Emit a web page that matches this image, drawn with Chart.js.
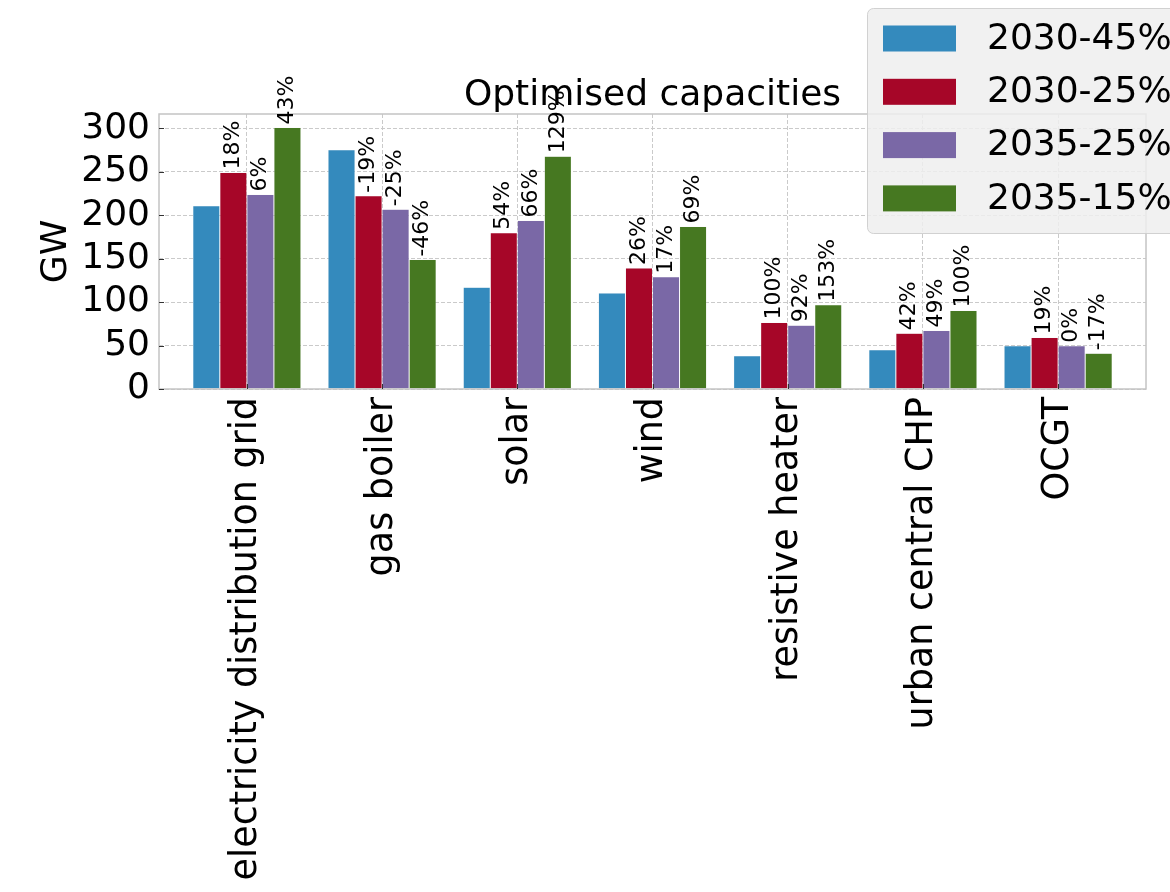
<!DOCTYPE html>
<html>
<head>
<meta charset="utf-8">
<title>Optimised capacities</title>
<script src="https://cdn.jsdelivr.net/npm/chart.js@4.4.1/dist/chart.umd.min.js"></script>
<style>
  html, body { margin: 0; padding: 0; background: #fff; }
  #wrap { width: 1170px; height: 892px; }
</style>
</head>
<body>
<div id="wrap"><canvas id="capChart" width="1170" height="892"></canvas></div>
<script>
// technologies on the x axis, one bar per scenario
const technologies = ['electricity distribution grid', 'gas boiler', 'solar', 'wind', 'resistive heater', 'urban central CHP', 'OCGT'];
const scenarios = ['2030-45%', '2030-25%', '2035-25%', '2035-15%'];

// optimised capacities in GW
const cap2030_45 = [211, 275.5, 117, 110.5, 38.3, 45.2, 49.8];
const cap2030_25 = [249.3, 222.5, 180, 139.3, 76.6, 64.2, 59.3];
const cap2035_25 = [224, 207, 194, 129.3, 73.5, 67.3, 49.8];
const cap2035_15 = [301, 149, 268, 187, 97, 90.4, 41.3];

const gwTicks = [0, 50, 100, 150, 200, 250, 300];

const colours = ['#348ABD', '#A60628', '#7A68A6', '#467821'];
const FONT = "'DejaVu Sans'";

Chart.defaults.font.family = FONT;
Chart.defaults.color = '#000';

const series = [cap2030_45, cap2030_25, cap2035_25, cap2035_15];

// frame, inward ticks, % change labels and title
const decorations = {
    id: 'decorations',
    afterDatasetsDraw(chart) {
        const { ctx, chartArea: a, scales: { x, y } } = chart;
        ctx.save();

        ctx.strokeStyle = '#c4c4c4';
        ctx.lineWidth = 1.5;
        ctx.strokeRect(a.left, a.top, a.right - a.left, a.bottom - a.top);

        ctx.strokeStyle = '#333';
        ctx.lineWidth = 1;
        ctx.beginPath();
        x.ticks.forEach(t => {
            const px = Math.round(x.getPixelForValue(t.value)) + 0.5;
            ctx.moveTo(px, a.bottom);
            ctx.lineTo(px, a.bottom - 5);
        });
        y.ticks.forEach(t => {
            const py = Math.round(y.getPixelForValue(t.value)) + 0.5;
            ctx.moveTo(a.left, py);
            ctx.lineTo(a.left + 5, py);
        });
        ctx.stroke();

        // change relative to the first scenario
        ctx.fillStyle = '#000';
        ctx.font = `22px ${FONT}`;
        ctx.textAlign = 'left';
        ctx.textBaseline = 'middle';
        const base = chart.data.datasets[0].data;
        for (let d = 1; d < chart.data.datasets.length; d++) {
            const ds = chart.data.datasets[d];
            chart.getDatasetMeta(d).data.forEach((bar, i) => {
                const pct = Math.round((ds.data[i].y / base[i].y - 1) * 100) + 0;
                ctx.save();
                ctx.translate(bar.x, bar.y - 3);
                ctx.rotate(-Math.PI / 2);
                ctx.fillText(pct + '%', 0, 0);
                ctx.restore();
            });
        }

        ctx.font = `36px ${FONT}`;
        ctx.textAlign = 'center';
        ctx.textBaseline = 'alphabetic';
        ctx.fillText('Optimised capacities', (a.left + a.right) / 2, a.top - 9);
        ctx.restore();
    },
    afterDraw(chart) {
        // legend box in the upper right corner, partly over the plot
        const { ctx, width } = chart;
        const lx = width - 303, ly = 8, lw = 340, lh = 225;
        ctx.save();
        ctx.fillStyle = 'rgba(238,238,238,0.85)';
        ctx.strokeStyle = 'rgba(205,205,205,0.9)';
        ctx.lineWidth = 1;
        ctx.beginPath();
        ctx.roundRect(lx + 0.5, ly + 0.5, lw, lh, 6);
        ctx.fill();
        ctx.stroke();

        ctx.font = `36px ${FONT}`;
        ctx.textAlign = 'left';
        ctx.textBaseline = 'middle';
        chart.data.datasets.forEach((ds, i) => {
            const cy = ly + 30.5 + i * 53.3;
            ctx.fillStyle = ds.backgroundColor;
            ctx.fillRect(lx + 16, cy - 13, 73, 26);
            ctx.fillStyle = '#000';
            ctx.fillText(ds.label, lx + 120, cy + 1);
        });
        ctx.restore();
    }
};

const gridColour = '#cacaca';

new Chart(document.getElementById('capChart'), {
    type: 'bar',
    data: {
        datasets: scenarios.map((label, k) => ({
            label,
            data: series[k].map((v, i) => ({ x: i, y: v })),
            backgroundColor: colours[k],
            borderColor: 'rgba(238,238,238,0.7)',
            borderWidth: 0.5,
            categoryPercentage: 0.8,
            barPercentage: 1
        }))
    },
    options: {
        responsive: false,
        animation: false,
        devicePixelRatio: 1,
        layout: { padding: { top: 114, right: 24, left: 0, bottom: 0 } },
        plugins: {
            legend: { display: false },
            tooltip: { enabled: false }
        },
        scales: {
            x: {
                type: 'linear',
                min: -0.65,
                max: 6.65,
                offset: false,
                afterBuildTicks: s => { s.ticks = technologies.map((_, i) => ({ value: i })); },
                afterFit: s => { s.height = 503; },
                grid: { offset: false, color: gridColour, lineWidth: 1, drawTicks: false },
                border: { display: false, dash: [4, 2] },
                ticks: {
                    callback: v => technologies[v],
                    minRotation: 90,
                    maxRotation: 90,
                    autoSkip: false,
                    padding: 8,
                    color: '#000',
                    font: { size: 36.5 }
                }
            },
            y: {
                min: 0,
                max: 316.6,
                afterBuildTicks: s => { s.ticks = gwTicks.map(v => ({ value: v })); },
                afterFit: s => { s.width = 159; },
                grid: { color: gridColour, lineWidth: 1, drawTicks: false },
                border: { display: false, dash: [4, 2] },
                ticks: { padding: 9, autoSkip: false, color: '#000', font: { size: 36 } },
                title: {
                    display: true,
                    text: 'GW',
                    color: '#000',
                    font: { size: 36 },
                    padding: { top: 35, bottom: 0 }
                }
            }
        }
    },
    plugins: [decorations]
});
</script>
</body>
</html>
